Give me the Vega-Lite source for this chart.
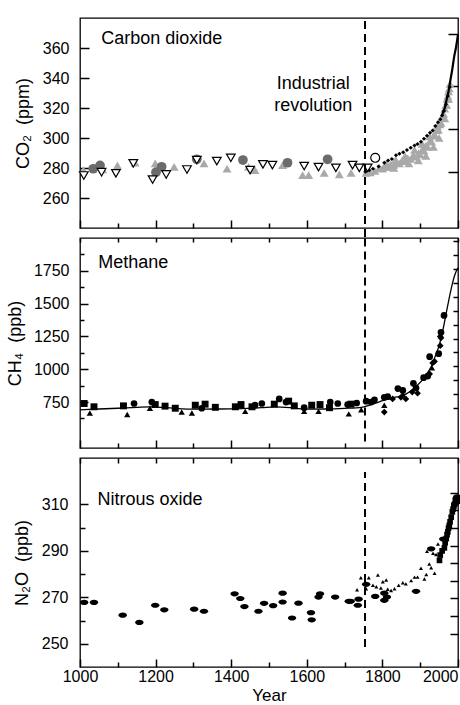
{
  "$schema": "https://vega.github.io/schema/vega-lite/v6.json",
  "padding": {"left": 5, "top": 17, "right": 1, "bottom": 0},
  "background": "white",
  "spacing": 10,
  "bounds": "flush",
  "config": {
    "font": "Liberation Sans",
    "view": {"stroke": "black", "strokeWidth": 1.3},
    "axis": {
      "labelFontSize": 16, "labelColor": "black", "labelFont": "Liberation Sans",
      "titleFontSize": 18, "titleFontWeight": "normal", "titleColor": "black", "titleFont": "Liberation Sans",
      "tickColor": "black", "tickWidth": 1.5, "domain": false, "grid": false,
      "labelOverlap": false, "labelFlush": false, "format": "d"
    }
  },
  "resolve": {"scale": {"x": "independent", "y": "independent"}, "axis": {"x": "independent", "y": "independent"}},
  "datasets": {
    "co2": [
      {"year": 1010, "value": 275.0, "series": "open"}, {"year": 1057, "value": 277.2, "series": "open"},
      {"year": 1095, "value": 276.4, "series": "open"}, {"year": 1141, "value": 283.1, "series": "open"},
      {"year": 1192, "value": 272.3, "series": "open"}, {"year": 1228, "value": 275.7, "series": "open"},
      {"year": 1283, "value": 279.0, "series": "open"}, {"year": 1309, "value": 285.3, "series": "open"},
      {"year": 1362, "value": 284.6, "series": "open"}, {"year": 1399, "value": 286.8, "series": "open"},
      {"year": 1450, "value": 278.6, "series": "open"}, {"year": 1484, "value": 282.4, "series": "open"},
      {"year": 1509, "value": 281.9, "series": "open"}, {"year": 1593, "value": 281.3, "series": "open"},
      {"year": 1631, "value": 280.6, "series": "open"}, {"year": 1677, "value": 280.1, "series": "open"},
      {"year": 1721, "value": 281.9, "series": "open"}, {"year": 1739, "value": 280.1, "series": "open"},
      {"year": 1761, "value": 280.1, "series": "open"},

      {"year": 1009, "value": 278.6, "series": "gray"}, {"year": 1060, "value": 279.0, "series": "gray"},
      {"year": 1099, "value": 281.7, "series": "gray"}, {"year": 1146, "value": 283.5, "series": "gray"},
      {"year": 1199, "value": 283.1, "series": "gray"}, {"year": 1249, "value": 280.8, "series": "gray"},
      {"year": 1328, "value": 283.1, "series": "gray"}, {"year": 1389, "value": 279.5, "series": "gray"},
      {"year": 1446, "value": 280.8, "series": "gray"}, {"year": 1463, "value": 278.6, "series": "gray"},
      {"year": 1536, "value": 281.9, "series": "gray"}, {"year": 1589, "value": 275.2, "series": "gray"},
      {"year": 1605, "value": 275.2, "series": "gray"}, {"year": 1646, "value": 276.8, "series": "gray"},
      {"year": 1686, "value": 275.7, "series": "gray"}, {"year": 1717, "value": 276.8, "series": "gray"},
      {"year": 1757, "value": 276.8, "series": "gray"}, {"year": 1792, "value": 280.1, "series": "gray"},
      {"year": 1768, "value": 277.0, "series": "gray"}, {"year": 1780, "value": 278.0, "series": "gray"},
      {"year": 1800, "value": 279.5, "series": "gray"}, {"year": 1808, "value": 280.5, "series": "gray"},
      {"year": 1815, "value": 281.0, "series": "gray"}, {"year": 1822, "value": 282.5, "series": "gray"},
      {"year": 1830, "value": 282.0, "series": "gray"}, {"year": 1838, "value": 283.5, "series": "gray"},
      {"year": 1845, "value": 283.0, "series": "gray"}, {"year": 1852, "value": 285.0, "series": "gray"},
      {"year": 1860, "value": 284.5, "series": "gray"}, {"year": 1867, "value": 286.5, "series": "gray"},
      {"year": 1875, "value": 286.0, "series": "gray"}, {"year": 1882, "value": 288.5, "series": "gray"},
      {"year": 1890, "value": 287.5, "series": "gray"}, {"year": 1896, "value": 290.0, "series": "gray"},
      {"year": 1900, "value": 289.0, "series": "gray"}, {"year": 1906, "value": 292.5, "series": "gray"},
      {"year": 1910, "value": 291.5, "series": "gray"}, {"year": 1915, "value": 295.0, "series": "gray"},
      {"year": 1920, "value": 294.0, "series": "gray"}, {"year": 1926, "value": 298.0, "series": "gray"},
      {"year": 1930, "value": 297.5, "series": "gray"}, {"year": 1936, "value": 302.0, "series": "gray"},
      {"year": 1940, "value": 301.5, "series": "gray"}, {"year": 1944, "value": 305.0, "series": "gray"},
      {"year": 1948, "value": 305.5, "series": "gray"}, {"year": 1952, "value": 309.0, "series": "gray"},
      {"year": 1955, "value": 310.0, "series": "gray"}, {"year": 1958, "value": 313.5, "series": "gray"},
      {"year": 1962, "value": 316.0, "series": "gray"}, {"year": 1965, "value": 319.5, "series": "gray"},
      {"year": 1968, "value": 322.0, "series": "gray"}, {"year": 1971, "value": 326.0, "series": "gray"},
      {"year": 1973, "value": 328.0, "series": "gray"}, {"year": 1975, "value": 331.0, "series": "gray"},
      {"year": 1977, "value": 333.0, "series": "gray"}, {"year": 1979, "value": 336.0, "series": "gray"},
      {"year": 1810, "value": 283.0, "series": "gray"}, {"year": 1835, "value": 285.5, "series": "gray"},
      {"year": 1860, "value": 288.0, "series": "gray"}, {"year": 1885, "value": 292.0, "series": "gray"},
      {"year": 1905, "value": 296.0, "series": "gray"}, {"year": 1925, "value": 301.0, "series": "gray"},
      {"year": 1945, "value": 308.0, "series": "gray"}, {"year": 1960, "value": 314.0, "series": "gray"},
      {"year": 1970, "value": 322.0, "series": "gray"},
      {"year": 1830, "value": 280.0, "series": "gray"}, {"year": 1870, "value": 283.0, "series": "gray"},
      {"year": 1895, "value": 285.0, "series": "gray"}, {"year": 1915, "value": 288.0, "series": "gray"},
      {"year": 1935, "value": 294.0, "series": "gray"}, {"year": 1950, "value": 300.0, "series": "gray"},
      {"year": 1965, "value": 313.0, "series": "gray"}, {"year": 1975, "value": 326.0, "series": "gray"},

      {"year": 1035, "value": 279.5, "series": "circle"}, {"year": 1053, "value": 281.7, "series": "circle"},
      {"year": 1201, "value": 277.2, "series": "circle"}, {"year": 1216, "value": 280.8, "series": "circle"},
      {"year": 1309, "value": 285.8, "series": "circle"}, {"year": 1431, "value": 285.3, "series": "circle"},
      {"year": 1549, "value": 283.5, "series": "circle"}, {"year": 1655, "value": 285.8, "series": "circle"},

      {"year": 1755, "value": 277.5, "series": "firn"}, {"year": 1765, "value": 278.5, "series": "firn"},
      {"year": 1775, "value": 279.5, "series": "firn"}, {"year": 1790, "value": 281.0, "series": "firn"},
      {"year": 1805, "value": 283.5, "series": "firn"}, {"year": 1815, "value": 285.0, "series": "firn"},
      {"year": 1825, "value": 286.0, "series": "firn"}, {"year": 1836, "value": 288.5, "series": "firn"},
      {"year": 1845, "value": 289.5, "series": "firn"}, {"year": 1855, "value": 290.5, "series": "firn"},
      {"year": 1865, "value": 292.0, "series": "firn"}, {"year": 1875, "value": 293.5, "series": "firn"},
      {"year": 1885, "value": 295.0, "series": "firn"}, {"year": 1893, "value": 296.0, "series": "firn"},
      {"year": 1902, "value": 297.5, "series": "firn"}, {"year": 1910, "value": 299.5, "series": "firn"},
      {"year": 1918, "value": 301.5, "series": "firn"}, {"year": 1926, "value": 303.5, "series": "firn"},
      {"year": 1933, "value": 305.0, "series": "firn"}, {"year": 1940, "value": 308.0, "series": "firn"},
      {"year": 1947, "value": 310.5, "series": "firn"}, {"year": 1953, "value": 312.5, "series": "firn"},
      {"year": 1958, "value": 315.0, "series": "firn"}, {"year": 1963, "value": 318.0, "series": "firn"},
      {"year": 1968, "value": 322.5, "series": "firn"}, {"year": 1973, "value": 328.0, "series": "firn"},
      {"year": 1978, "value": 334.0, "series": "firn"},

      {"year": 1781, "value": 286.8, "series": "ring"},

      {"year": 1958, "value": 315.0, "series": "ml"}, {"year": 1960, "value": 316.9, "series": "ml"},
      {"year": 1965, "value": 320.0, "series": "ml"}, {"year": 1970, "value": 325.7, "series": "ml"},
      {"year": 1975, "value": 331.1, "series": "ml"}, {"year": 1980, "value": 338.7, "series": "ml"},
      {"year": 1985, "value": 346.0, "series": "ml"}, {"year": 1990, "value": 354.4, "series": "ml"},
      {"year": 1995, "value": 360.8, "series": "ml"}, {"year": 2000, "value": 369.0, "series": "ml"}
    ],
    "ch4": [
      {"year": 1000, "value": 691, "series": "fit"}, {"year": 1050, "value": 697, "series": "fit"},
      {"year": 1100, "value": 703, "series": "fit"}, {"year": 1150, "value": 710, "series": "fit"},
      {"year": 1185, "value": 714, "series": "fit"}, {"year": 1230, "value": 708, "series": "fit"},
      {"year": 1270, "value": 698, "series": "fit"}, {"year": 1300, "value": 696, "series": "fit"},
      {"year": 1350, "value": 697, "series": "fit"}, {"year": 1400, "value": 698, "series": "fit"},
      {"year": 1450, "value": 703, "series": "fit"}, {"year": 1480, "value": 707, "series": "fit"},
      {"year": 1514, "value": 714, "series": "fit"}, {"year": 1560, "value": 706, "series": "fit"},
      {"year": 1593, "value": 696, "series": "fit"}, {"year": 1650, "value": 697, "series": "fit"},
      {"year": 1700, "value": 702, "series": "fit"}, {"year": 1745, "value": 710, "series": "fit"},
      {"year": 1770, "value": 730, "series": "fit"}, {"year": 1790, "value": 750, "series": "fit"},
      {"year": 1810, "value": 768, "series": "fit"}, {"year": 1830, "value": 785, "series": "fit"},
      {"year": 1854, "value": 800, "series": "fit"}, {"year": 1870, "value": 825, "series": "fit"},
      {"year": 1889, "value": 869, "series": "fit"}, {"year": 1905, "value": 915, "series": "fit"},
      {"year": 1920, "value": 976, "series": "fit"}, {"year": 1930, "value": 1025, "series": "fit"},
      {"year": 1940, "value": 1100, "series": "fit"}, {"year": 1950, "value": 1180, "series": "fit"},
      {"year": 1960, "value": 1298, "series": "fit"}, {"year": 1973, "value": 1489, "series": "fit"},
      {"year": 1985, "value": 1650, "series": "fit"}, {"year": 1990, "value": 1705, "series": "fit"},
      {"year": 1995, "value": 1745, "series": "fit"}, {"year": 2000, "value": 1772, "series": "fit"},

      {"year": 1011, "value": 739, "series": "square"}, {"year": 1037, "value": 714, "series": "square"},
      {"year": 1115, "value": 721, "series": "square"}, {"year": 1199, "value": 731, "series": "square"},
      {"year": 1225, "value": 719, "series": "square"}, {"year": 1252, "value": 703, "series": "square"},
      {"year": 1305, "value": 726, "series": "square"}, {"year": 1331, "value": 734, "series": "square"},
      {"year": 1358, "value": 710, "series": "square"}, {"year": 1411, "value": 714, "series": "square"},
      {"year": 1426, "value": 731, "series": "square"}, {"year": 1455, "value": 714, "series": "square"},
      {"year": 1514, "value": 734, "series": "square"}, {"year": 1552, "value": 757, "series": "square"},
      {"year": 1567, "value": 721, "series": "square"}, {"year": 1613, "value": 726, "series": "square"},
      {"year": 1635, "value": 731, "series": "square"}, {"year": 1660, "value": 707, "series": "square"},
      {"year": 1717, "value": 734, "series": "square"},

      {"year": 1143, "value": 739, "series": "circle"}, {"year": 1190, "value": 750, "series": "circle"},
      {"year": 1322, "value": 703, "series": "circle"}, {"year": 1463, "value": 726, "series": "circle"},
      {"year": 1481, "value": 739, "series": "circle"}, {"year": 1527, "value": 774, "series": "circle"},
      {"year": 1545, "value": 750, "series": "circle"}, {"year": 1593, "value": 707, "series": "circle"},
      {"year": 1662, "value": 750, "series": "circle"}, {"year": 1682, "value": 739, "series": "circle"},
      {"year": 1708, "value": 731, "series": "circle"}, {"year": 1732, "value": 743, "series": "circle"},
      {"year": 1757, "value": 757, "series": "circle"}, {"year": 1770, "value": 750, "series": "circle"},
      {"year": 1779, "value": 767, "series": "circle"}, {"year": 1805, "value": 786, "series": "circle"},
      {"year": 1814, "value": 791, "series": "circle"}, {"year": 1841, "value": 853, "series": "circle"},
      {"year": 1854, "value": 839, "series": "circle"}, {"year": 1882, "value": 893, "series": "circle"},
      {"year": 1889, "value": 857, "series": "circle"}, {"year": 1909, "value": 936, "series": "circle"},
      {"year": 1920, "value": 948, "series": "circle"}, {"year": 1925, "value": 1096, "series": "circle"},
      {"year": 1949, "value": 1119, "series": "circle"}, {"year": 1955, "value": 1281, "series": "circle"},
      {"year": 1963, "value": 1410, "series": "circle"},

      {"year": 1026, "value": 667, "series": "triangle"}, {"year": 1125, "value": 655, "series": "triangle"},
      {"year": 1185, "value": 703, "series": "triangle"}, {"year": 1269, "value": 674, "series": "triangle"},
      {"year": 1296, "value": 667, "series": "triangle"}, {"year": 1437, "value": 679, "series": "triangle"},
      {"year": 1593, "value": 679, "series": "triangle"}, {"year": 1631, "value": 679, "series": "triangle"},
      {"year": 1711, "value": 660, "series": "triangle"}, {"year": 1744, "value": 691, "series": "triangle"},
      {"year": 1805, "value": 726, "series": "triangle"}, {"year": 1854, "value": 810, "series": "triangle"},
      {"year": 1931, "value": 1012, "series": "triangle"},

      {"year": 1805, "value": 674, "series": "diamond"}, {"year": 1827, "value": 774, "series": "diamond"},
      {"year": 1849, "value": 786, "series": "diamond"}, {"year": 1862, "value": 774, "series": "diamond"},
      {"year": 1879, "value": 826, "series": "diamond"}, {"year": 1893, "value": 817, "series": "diamond"},
      {"year": 1925, "value": 964, "series": "diamond"}, {"year": 1933, "value": 1048, "series": "diamond"},
      {"year": 1938, "value": 1060, "series": "diamond"}, {"year": 1953, "value": 1180, "series": "diamond"},
      {"year": 1953, "value": 1250, "series": "diamond"}, {"year": 1955, "value": 1239, "series": "diamond"}
    ],
    "n2o": [
      {"year": 1011, "value": 267.8, "series": "ellipse"}, {"year": 1037, "value": 267.8, "series": "ellipse"},
      {"year": 1113, "value": 262.3, "series": "ellipse"}, {"year": 1157, "value": 259.2, "series": "ellipse"},
      {"year": 1199, "value": 266.6, "series": "ellipse"}, {"year": 1223, "value": 264.6, "series": "ellipse"},
      {"year": 1302, "value": 264.9, "series": "ellipse"}, {"year": 1328, "value": 264.0, "series": "ellipse"},
      {"year": 1409, "value": 271.5, "series": "ellipse"}, {"year": 1424, "value": 269.5, "series": "ellipse"},
      {"year": 1435, "value": 266.0, "series": "ellipse"}, {"year": 1472, "value": 264.0, "series": "ellipse"},
      {"year": 1487, "value": 267.4, "series": "ellipse"}, {"year": 1511, "value": 266.4, "series": "ellipse"},
      {"year": 1536, "value": 271.8, "series": "ellipse"}, {"year": 1536, "value": 268.0, "series": "ellipse"},
      {"year": 1561, "value": 261.1, "series": "ellipse"}, {"year": 1578, "value": 267.5, "series": "ellipse"},
      {"year": 1611, "value": 263.4, "series": "ellipse"}, {"year": 1613, "value": 260.3, "series": "ellipse"},
      {"year": 1631, "value": 270.1, "series": "ellipse"}, {"year": 1635, "value": 271.5, "series": "ellipse"},
      {"year": 1675, "value": 270.1, "series": "ellipse"}, {"year": 1711, "value": 268.3, "series": "ellipse"},
      {"year": 1716, "value": 268.3, "series": "ellipse"}, {"year": 1735, "value": 266.6, "series": "ellipse"},
      {"year": 1737, "value": 269.2, "series": "ellipse"}, {"year": 1757, "value": 275.6, "series": "ellipse"},
      {"year": 1781, "value": 270.4, "series": "ellipse"}, {"year": 1805, "value": 271.8, "series": "ellipse"},
      {"year": 1805, "value": 268.7, "series": "ellipse"}, {"year": 1812, "value": 270.1, "series": "ellipse"},
      {"year": 1889, "value": 272.6, "series": "ellipse"}, {"year": 1929, "value": 290.9, "series": "ellipse"},
      {"year": 1961, "value": 295.1, "series": "ellipse"}, {"year": 1993, "value": 310.5, "series": "ellipse"},
      {"year": 1996, "value": 312.5, "series": "ellipse"}, {"year": 1998, "value": 313.3, "series": "ellipse"},

      {"year": 1733, "value": 273.3, "series": "triangle"}, {"year": 1743, "value": 278.4, "series": "triangle"},
      {"year": 1764, "value": 278.4, "series": "triangle"}, {"year": 1788, "value": 279.6, "series": "triangle"},
      {"year": 1810, "value": 277.5, "series": "triangle"}, {"year": 1801, "value": 276.7, "series": "triangle"},
      {"year": 1757, "value": 273.7, "series": "triangle"}, {"year": 1775, "value": 275.2, "series": "triangle"},
      {"year": 1784, "value": 274.6, "series": "triangle"}, {"year": 1796, "value": 274.0, "series": "triangle"},
      {"year": 1814, "value": 273.5, "series": "triangle"}, {"year": 1823, "value": 272.9, "series": "triangle"},
      {"year": 1832, "value": 273.7, "series": "triangle"}, {"year": 1843, "value": 275.2, "series": "triangle"},
      {"year": 1854, "value": 276.3, "series": "triangle"}, {"year": 1862, "value": 275.8, "series": "triangle"},
      {"year": 1876, "value": 277.2, "series": "triangle"}, {"year": 1885, "value": 278.7, "series": "triangle"},
      {"year": 1893, "value": 278.7, "series": "triangle"}, {"year": 1902, "value": 282.5, "series": "triangle"},
      {"year": 1911, "value": 277.9, "series": "triangle"}, {"year": 1916, "value": 279.8, "series": "triangle"},
      {"year": 1924, "value": 284.4, "series": "triangle"}, {"year": 1929, "value": 282.7, "series": "triangle"},
      {"year": 1938, "value": 280.4, "series": "triangle"}, {"year": 1918, "value": 289.8, "series": "triangle"},
      {"year": 1934, "value": 289.0, "series": "triangle"}, {"year": 1942, "value": 288.4, "series": "triangle"},
      {"year": 1947, "value": 293.0, "series": "triangle"},

      {"year": 1951, "value": 285.9, "series": "square"}, {"year": 1953, "value": 288.2, "series": "square"},
      {"year": 1958, "value": 290.0, "series": "square"}, {"year": 1964, "value": 291.3, "series": "square"},
      {"year": 1966, "value": 293.5, "series": "square"}, {"year": 1969, "value": 295.3, "series": "square"},
      {"year": 1971, "value": 297.0, "series": "square"}, {"year": 1973, "value": 298.2, "series": "square"},
      {"year": 1975, "value": 299.8, "series": "square"}, {"year": 1977, "value": 301.0, "series": "square"},
      {"year": 1979, "value": 302.5, "series": "square"}, {"year": 1982, "value": 304.5, "series": "square"},
      {"year": 1985, "value": 306.8, "series": "square"}, {"year": 1987, "value": 308.0, "series": "square"},
      {"year": 1989, "value": 309.1, "series": "square"}, {"year": 1991, "value": 310.0, "series": "square"},
      {"year": 1993, "value": 310.8, "series": "square"}, {"year": 1995, "value": 311.9, "series": "square"},
      {"year": 1997, "value": 312.2, "series": "square"}, {"year": 1999, "value": 311.4, "series": "square"}
    ]
  },
  "vconcat": [
    {
      "width": 378, "height": 210,
      "resolve": {"axis": {"x": "independent", "y": "independent"}},
      "layer": [
        {
          "data": {"name": "co2"}, "transform": [{"filter": "datum.series === 'gray'"}],
          "mark": {"type": "point", "shape": "triangle-up", "filled": true, "color": "#a9a9a9", "size": 80, "opacity": 1},
          "encoding": {
            "x": {"field": "year", "type": "quantitative", "scale": {"domain": [1000, 2000]},
                  "axis": {"orient": "bottom", "values": [1000,1100,1200,1300,1400,1500,1600,1700,1800,1900,2000], "labels": false, "title": null,
                           "tickSize": {"condition": {"test": "datum.value % 200 === 0", "value": -8}, "value": -5}}},
            "y": {"field": "value", "type": "quantitative", "scale": {"domain": [240, 380]},
                  "axis": {"orient": "left", "values": [260,280,300,320,340,360], "tickSize": -9, "labelPadding": 20, "titlePadding": 10, "title": "CO₂ \u00a0(ppm)"}}
          }
        },
        {
          "data": {"name": "co2"}, "transform": [{"filter": "datum.series === 'circle'"}],
          "mark": {"type": "point", "shape": "circle", "filled": true, "color": "#6b6b6b", "size": 95, "opacity": 1},
          "encoding": {
            "x": {"field": "year", "type": "quantitative", "axis": null},
            "y": {"field": "value", "type": "quantitative", "axis": null}
          }
        },
        {
          "data": {"name": "co2"}, "transform": [{"filter": "datum.series === 'firn'"}],
          "mark": {"type": "point", "shape": "diamond", "filled": true, "color": "black", "size": 18, "opacity": 1},
          "encoding": {
            "x": {"field": "year", "type": "quantitative", "axis": null},
            "y": {"field": "value", "type": "quantitative", "axis": null}
          }
        },
        {
          "data": {"name": "co2"}, "transform": [{"filter": "datum.series === 'open'"}],
          "mark": {"type": "point", "shape": "triangle-down", "filled": true, "fill": "white", "stroke": "black", "strokeWidth": 1.2, "size": 75, "opacity": 1},
          "encoding": {
            "x": {"field": "year", "type": "quantitative", "axis": null},
            "y": {"field": "value", "type": "quantitative", "axis": null}
          }
        },
        {
          "data": {"name": "co2"}, "transform": [{"filter": "datum.series === 'ring'"}],
          "mark": {"type": "point", "shape": "circle", "filled": true, "fill": "white", "stroke": "black", "strokeWidth": 1.2, "size": 80, "opacity": 1},
          "encoding": {
            "x": {"field": "year", "type": "quantitative", "axis": null},
            "y": {"field": "value", "type": "quantitative", "axis": null}
          }
        },
        {
          "data": {"name": "co2"}, "transform": [{"filter": "datum.series === 'ml'"}],
          "mark": {"type": "line", "color": "black", "strokeWidth": 2.2, "interpolate": "monotone"},
          "encoding": {
            "x": {"field": "year", "type": "quantitative", "axis": null},
            "y": {"field": "value", "type": "quantitative", "axis": null}
          }
        },
        {
          "data": {"values": [{}]},
          "mark": {"type": "rule", "color": "black", "strokeWidth": 2, "strokeDash": [8, 5]},
          "encoding": {
            "x": {"datum": 1754, "type": "quantitative", "axis": null},
            "y": {"datum": 234, "type": "quantitative",
                  "axis": {"orient": "right", "values": [277.2, 305.9, 334.5, 369.2], "labels": false, "title": null, "tickSize": -10}},
            "y2": {"datum": 378}
          }
        },
        {
          "data": {"values": [{}]},
          "mark": {"type": "text", "text": "Carbon dioxide", "align": "left", "baseline": "middle", "fontSize": 18, "font": "Liberation Sans", "color": "black"},
          "encoding": {
            "x": {"datum": 1056, "type": "quantitative", "axis": null},
            "y": {"datum": 366, "type": "quantitative", "axis": null}
          }
        },
        {
          "data": {"values": [{}]},
          "mark": {"type": "text", "text": ["Industrial", "revolution"], "align": "center", "baseline": "middle", "lineHeight": 22, "fontSize": 18, "font": "Liberation Sans", "color": "black"},
          "encoding": {
            "x": {"datum": 1617, "type": "quantitative", "axis": null},
            "y": {"datum": 335.8, "type": "quantitative", "axis": null}
          }
        }
      ]
    },
    {
      "width": 378, "height": 210,
      "resolve": {"axis": {"x": "independent", "y": "independent"}},
      "layer": [
        {
          "data": {"name": "ch4"}, "transform": [{"filter": "datum.series === 'fit'"}],
          "mark": {"type": "line", "color": "black", "strokeWidth": 1.3, "interpolate": "monotone"},
          "encoding": {
            "x": {"field": "year", "type": "quantitative", "scale": {"domain": [1000, 2000]},
                  "axis": {"orient": "bottom", "values": [1000,1100,1200,1300,1400,1500,1600,1700,1800,1900,2000], "labels": false, "title": null,
                           "tickSize": {"condition": {"test": "datum.value % 200 === 0", "value": -8}, "value": -5}}},
            "y": {"field": "value", "type": "quantitative", "scale": {"domain": [500, 2000]},
                  "axis": {"orient": "left", "values": [625,750,875,1000,1125,1250,1375,1500,1625,1750,1875],
                           "labelExpr": "datum.value % 250 === 0 ? datum.label : ''",
                           "tickSize": {"condition": {"test": "datum.value % 250 === 0", "value": -8}, "value": -4},
                           "labelPadding": 19, "titlePadding": 9, "title": "CH₄ \u00a0(ppb)"}}
          }
        },
        {
          "data": {"name": "ch4"}, "transform": [{"filter": "datum.series === 'square'"}],
          "mark": {"type": "point", "shape": "square", "filled": true, "color": "black", "size": 48, "opacity": 1},
          "encoding": {
            "x": {"field": "year", "type": "quantitative", "axis": null},
            "y": {"field": "value", "type": "quantitative", "axis": null}
          }
        },
        {
          "data": {"name": "ch4"}, "transform": [{"filter": "datum.series === 'circle'"}],
          "mark": {"type": "point", "shape": "circle", "filled": true, "color": "black", "size": 45, "opacity": 1},
          "encoding": {
            "x": {"field": "year", "type": "quantitative", "axis": null},
            "y": {"field": "value", "type": "quantitative", "axis": null}
          }
        },
        {
          "data": {"name": "ch4"}, "transform": [{"filter": "datum.series === 'triangle'"}],
          "mark": {"type": "point", "shape": "triangle-up", "filled": true, "color": "black", "size": 40, "opacity": 1},
          "encoding": {
            "x": {"field": "year", "type": "quantitative", "axis": null},
            "y": {"field": "value", "type": "quantitative", "axis": null}
          }
        },
        {
          "data": {"name": "ch4"}, "transform": [{"filter": "datum.series === 'diamond'"}],
          "mark": {"type": "point", "shape": "diamond", "filled": true, "color": "black", "size": 45, "opacity": 1},
          "encoding": {
            "x": {"field": "year", "type": "quantitative", "axis": null},
            "y": {"field": "value", "type": "quantitative", "axis": null}
          }
        },
        {
          "data": {"values": [{}]},
          "mark": {"type": "rule", "color": "black", "strokeWidth": 2, "strokeDash": [8, 5]},
          "encoding": {
            "x": {"datum": 1754, "type": "quantitative",
                  "axis": {"orient": "top", "values": [1000,1100,1200,1300,1400,1500,1600,1700,1800,1900,2000], "labels": false, "title": null, "tickSize": -4}},
            "y": {"datum": 450, "type": "quantitative",
                  "axis": {"orient": "right", "values": [707,810,917,1024,1131,1234,1340,1441,1548,1655,1762,1869,1976], "labels": false, "title": null, "tickSize": -5}},
            "y2": {"datum": 2050}
          }
        },
        {
          "data": {"values": [{}]},
          "mark": {"type": "text", "text": "Methane", "align": "left", "baseline": "middle", "fontSize": 18, "font": "Liberation Sans", "color": "black"},
          "encoding": {
            "x": {"datum": 1048, "type": "quantitative", "axis": null},
            "y": {"datum": 1808, "type": "quantitative", "axis": null}
          }
        }
      ]
    },
    {
      "width": 378, "height": 209,
      "resolve": {"axis": {"x": "independent", "y": "independent"}},
      "layer": [
        {
          "data": {"name": "n2o"}, "transform": [{"filter": "datum.series === 'ellipse'"}],
          "mark": {"type": "point", "shape": "M-1,0A1,0.62,0,1,0,1,0A1,0.62,0,1,0,-1,0Z", "filled": true, "color": "black", "size": 70, "opacity": 1},
          "encoding": {
            "x": {"field": "year", "type": "quantitative", "scale": {"domain": [1000, 2000]},
                  "axis": {"orient": "bottom", "values": [1000,1100,1200,1300,1400,1500,1600,1700,1800,1900,2000],
                           "labelExpr": "datum.value % 200 === 0 ? datum.label : ''",
                           "tickSize": {"condition": {"test": "datum.value % 200 === 0", "value": -8}, "value": -5},
                           "labelAlign": {"condition": {"test": "datum.value === 2000", "value": "right"}, "value": "center"},
                           "labelPadding": 9, "titlePadding": 0, "titleFontSize": 17, "title": "Year"}},
            "y": {"field": "value", "type": "quantitative", "scale": {"domain": [248.6, 320.5]},
                  "axis": {"orient": "left", "values": [250,260,270,280,290,300,310],
                           "labelExpr": "(datum.value - 250) % 20 === 0 ? datum.label : ''",
                           "tickSize": {"condition": {"test": "(datum.value - 250) % 20 === 0", "value": -8}, "value": -5},
                           "labelPadding": 20, "titlePadding": 10, "title": "N₂O \u00a0(ppb)"}}
          }
        },
        {
          "data": {"name": "n2o"}, "transform": [{"filter": "datum.series === 'triangle'"}],
          "mark": {"type": "point", "shape": "triangle-up", "filled": true, "color": "black", "size": 16, "opacity": 1},
          "encoding": {
            "x": {"field": "year", "type": "quantitative", "axis": null},
            "y": {"field": "value", "type": "quantitative", "axis": null}
          }
        },
        {
          "data": {"name": "n2o"}, "transform": [{"filter": "datum.series === 'square'"}],
          "mark": {"type": "point", "shape": "square", "filled": true, "color": "black", "size": 32, "opacity": 1},
          "encoding": {
            "x": {"field": "year", "type": "quantitative", "axis": null},
            "y": {"field": "value", "type": "quantitative", "axis": null}
          }
        },
        {
          "data": {"values": [{}]},
          "mark": {"type": "rule", "color": "black", "strokeWidth": 2, "strokeDash": [8, 5]},
          "encoding": {
            "x": {"datum": 1754, "type": "quantitative",
                  "axis": {"orient": "top", "values": [1000,1100,1200,1300,1400,1500,1600,1700,1800,1900,2000], "labels": false, "title": null, "tickSize": -5}},
            "y": {"datum": 248.6, "type": "quantitative",
                  "axis": {"orient": "right", "values": [254.2,262,269.5,277.2,284.7,292.2,299.9,307.5,315], "labels": false, "title": null, "tickSize": -8}},
            "y2": {"datum": 324}
          }
        },
        {
          "data": {"values": [{}]},
          "mark": {"type": "text", "text": "Nitrous oxide", "align": "left", "baseline": "middle", "fontSize": 18, "font": "Liberation Sans", "color": "black"},
          "encoding": {
            "x": {"datum": 1046, "type": "quantitative", "axis": null},
            "y": {"datum": 311.9, "type": "quantitative", "axis": null}
          }
        }
      ]
    }
  ]
}
